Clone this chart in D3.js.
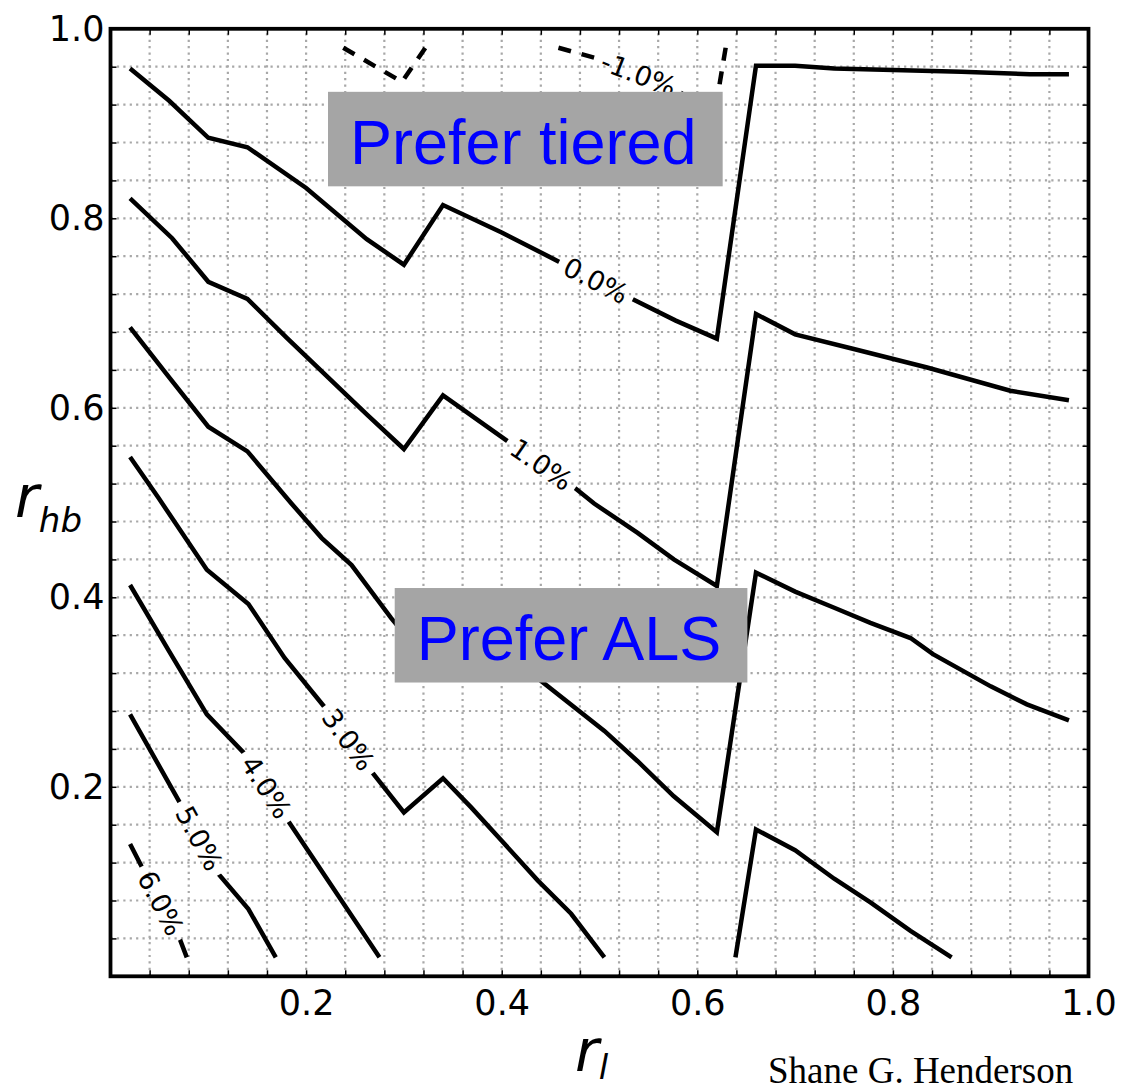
<!DOCTYPE html>
<html><head><meta charset="utf-8">
<script src="https://cdn.jsdelivr.net/npm/d3@7"></script>
<style>body{margin:0;background:#fff}</style>
</head><body><svg id="chart" width="1123" height="1091"></svg>
<script>
// ---------------- data ----------------
const xTickLabels = [0.2, 0.4, 0.6, 0.8, 1.0];
const yTickLabels = [0.2, 0.4, 0.6, 0.8, 1.0];
const gridTicks = [0.04,0.08,0.12,0.16,0.2,0.24,0.28,0.32,0.36,0.4,0.44,0.48,0.52,0.56,0.6,0.64,0.68,0.72,0.76,0.8,0.84,0.88,0.92,0.96];

// contour pieces: [r_l, r_hb]
const contourNeg1 = [
  [[0.238,0.98],[0.298,0.944],[0.322,0.98]],
  [[0.458,0.98],[0.50,0.968],[0.54,0.952],[0.58,0.935],[0.60,0.92],[0.617,0.90],[0.623,0.943],[0.629,0.98]]
];
const contour0 = [
  [[0.02,0.958],[0.06,0.924],[0.10,0.885],[0.14,0.875],[0.20,0.832],[0.262,0.778],[0.30,0.751],[0.34,0.814],[0.40,0.785],[0.459,0.754],[0.533,0.715],[0.578,0.692],[0.62,0.673],[0.66,0.961],[0.70,0.961],[0.74,0.958],[0.80,0.9565],[0.87,0.9547],[0.94,0.952],[0.98,0.952]]
];
const contour1 = [
  [[0.02,0.821],[0.063,0.779],[0.10,0.733],[0.14,0.715],[0.18,0.674],[0.262,0.593],[0.30,0.5565],[0.34,0.613],[0.407,0.564],[0.473,0.517],[0.4945,0.499],[0.539,0.468],[0.576,0.44],[0.62,0.412],[0.66,0.699],[0.70,0.6775],[0.76,0.662],[0.835,0.6425],[0.92,0.618],[0.98,0.608]]
];
const contour2 = [
  [[0.02,0.685],[0.06,0.632],[0.10,0.58],[0.14,0.554],[0.185,0.499],[0.216,0.4625],[0.2465,0.434],[0.287,0.378],[0.30,0.362],[0.34,0.395],[0.40,0.35],[0.44,0.312],[0.505,0.259],[0.539,0.227],[0.576,0.19],[0.62,0.152],[0.66,0.426],[0.70,0.406],[0.74,0.389],[0.777,0.373],[0.818,0.357],[0.841,0.34],[0.90,0.306],[0.937,0.287],[0.98,0.27]]
];
const contour3 = [
  [[0.02,0.548],[0.049,0.505],[0.0985,0.429],[0.141,0.393],[0.178,0.336],[0.219,0.284],[0.267,0.216],[0.30,0.173],[0.34,0.209],[0.369,0.178],[0.40,0.143],[0.437,0.101],[0.471,0.066],[0.505,0.02]],
  [[0.639,0.02],[0.66,0.155],[0.70,0.133],[0.74,0.103],[0.777,0.078],[0.818,0.048],[0.86,0.02]]
];
const contour4 = [
  [[0.02,0.413],[0.06,0.343],[0.0985,0.2765],[0.1376,0.2344],[0.181,0.165],[0.275,0.02]]
];
const contour5 = [
  [[0.02,0.2765],[0.0713,0.1825],[0.1104,0.108],[0.141,0.071],[0.169,0.02]]
];
const contour6 = [
  [[0.02,0.1396],[0.0322,0.115],[0.0713,0.038],[0.078,0.02]]
];
const contourLevels = [-1, 0, 1, 2, 3, 4, 5, 6];
const contourPieces = [contourNeg1, contour0, contour1, contour2, contour3, contour4, contour5, contour6];

// inline label positions (r_l of label centre) per level
const labelLevels = [-1, 0, 1, 2, 3, 4, 5, 6];
const labelX = [0.54, 0.4964, 0.4405, 0.37, 0.2432, 0.1593, 0.0907, 0.0514];

const annotations = ["Prefer tiered", "Prefer ALS"];
const annotationX = [0.2449, 0.3131];
const annotationY = [0.8575, 0.3338];

// ---------------- chart ----------------
const svg = d3.select("#chart");
const x = d3.scaleLinear().domain([0, 1]).range([110.5, 1088.5]);
const y = d3.scaleLinear().domain([0, 1]).range([976.3, 28.8]);

// grid
const grid = svg.append("g").attr("stroke", "#a8a8a8").attr("stroke-width", 2.2).attr("stroke-dasharray", "2.2,4.2");
grid.selectAll("line.v").data(gridTicks).join("line").attr("class", "v")
  .attr("x1", d => x(d)).attr("x2", d => x(d)).attr("y1", y(0)).attr("y2", y(1));
grid.selectAll("line.h").data(gridTicks).join("line").attr("class", "h")
  .attr("y1", d => y(d)).attr("y2", d => y(d)).attr("x1", x(0)).attr("x2", x(1));

// contour labels (measure first)
const lineGen = d3.line().x(d => x(d[0])).y(d => y(d[1]));
function locate(level, lx) {
  const pieces = contourPieces[contourLevels.indexOf(level)];
  for (const p of pieces) {
    for (let i = 0; i < p.length - 1; i++) {
      const a = p[i], b = p[i + 1];
      if ((lx - a[0]) * (lx - b[0]) <= 0 && a[0] !== b[0]) {
        const t = (lx - a[0]) / (b[0] - a[0]);
        const ly = a[1] + t * (b[1] - a[1]);
        const ang = Math.atan2(y(b[1]) - y(a[1]), x(b[0]) - x(a[0])) * 180 / Math.PI;
        return {px: x(lx), py: y(ly), ang};
      }
    }
  }
  return null;
}
const labels = labelLevels.map((lv, i) => Object.assign({level: lv, text: lv.toFixed(1) + "%"}, locate(lv, labelX[i])));

const defs = svg.append("defs");
const mask = defs.append("mask").attr("id", "gaps").attr("maskUnits", "userSpaceOnUse")
  .attr("x", 0).attr("y", 0).attr("width", 1123).attr("height", 1091);
mask.append("rect").attr("x", 0).attr("y", 0).attr("width", 1123).attr("height", 1091).attr("fill", "white");

const contourG = svg.append("g").attr("mask", "url(#gaps)");
contourLevels.forEach((lv, i) => {
  contourG.selectAll(null).data(contourPieces[i]).join("path")
    .attr("d", lineGen).attr("fill", "none").attr("stroke", "#000")
    .attr("stroke-width", 4.5).attr("stroke-linejoin", "miter").attr("stroke-linecap", "butt")
    .attr("stroke-dasharray", lv < 0 ? "13,11" : null);
});

const labelG = svg.append("g").attr("font-family", "DejaVu Sans").attr("font-size", 27).attr("fill", "#000");
labelG.selectAll("text").data(labels).join("text")
  .attr("transform", d => `translate(${d.px},${d.py}) rotate(${d.ang})`)
  .attr("text-anchor", "middle").attr("dominant-baseline", "central")
  .text(d => d.text)
  .each(function(d) {
    const w = this.getComputedTextLength() + 14;
    mask.append("rect").attr("x", -w / 2).attr("y", -12).attr("width", w).attr("height", 24)
      .attr("transform", `translate(${d.px},${d.py}) rotate(${d.ang})`).attr("fill", "black");
  });

// annotation boxes
annotations.forEach((t, i) => {
  const g = svg.append("g");
  const rect = g.append("rect").attr("fill", "#a5a5a5");
  const txt = g.append("text").attr("x", x(annotationX[i])).attr("y", y(annotationY[i]))
    .attr("font-family", "Liberation Sans, Arial, sans-serif").attr("font-size", 63)
    .attr("fill", "#0000ff").text(t);
  const bb = txt.node().getBBox();
  rect.attr("x", bb.x - 22).attr("y", bb.y - 15).attr("width", bb.width + 48).attr("height", bb.height + 24.5);
});

// frame
svg.append("rect").attr("x", x(0)).attr("y", y(1)).attr("width", x(1) - x(0)).attr("height", y(0) - y(1))
  .attr("fill", "none").attr("stroke", "#000").attr("stroke-width", 3.8);

// minor ticks on all sides (inward)
function styleTicks(g) {
  g.select(".domain").remove();
  g.selectAll(".tick line").attr("stroke", "#000").attr("stroke-width", 1.5);
}
svg.append("g").attr("transform", `translate(0,${y(0)})`).call(d3.axisBottom(x).tickValues(gridTicks).tickSize(-6).tickFormat("")).call(styleTicks);
svg.append("g").attr("transform", `translate(0,${y(1)})`).call(d3.axisTop(x).tickValues(gridTicks).tickSize(-6).tickFormat("")).call(styleTicks);
svg.append("g").attr("transform", `translate(${x(0)},0)`).call(d3.axisLeft(y).tickValues(gridTicks).tickSize(-6).tickFormat("")).call(styleTicks);
svg.append("g").attr("transform", `translate(${x(1)},0)`).call(d3.axisRight(y).tickValues(gridTicks).tickSize(-6).tickFormat("")).call(styleTicks);

// tick labels
const fmt = d3.format(".1f");
svg.append("g").attr("transform", `translate(0,${y(0)})`)
  .call(d3.axisBottom(x).tickValues(xTickLabels).tickSize(0).tickPadding(14).tickFormat(fmt))
  .call(g => g.select(".domain").remove())
  .attr("font-family", "DejaVu Sans").attr("font-size", 35)
  .selectAll("text").attr("fill", "#000");
svg.append("g").attr("transform", `translate(${x(0)},0)`)
  .call(d3.axisLeft(y).tickValues(yTickLabels).tickSize(0).tickPadding(6).tickFormat(fmt))
  .call(g => g.select(".domain").remove())
  .attr("font-family", "DejaVu Sans").attr("font-size", 35)
  .selectAll("text").attr("fill", "#000");

// axis titles
const yl = svg.append("text").attr("x", 15).attr("y", 517).attr("font-family", "DejaVu Sans").attr("font-style", "italic").attr("fill", "#000");
yl.append("tspan").attr("font-size", 58).text("r");
yl.append("tspan").attr("font-size", 34).attr("dy", 15).text("hb");
const xl = svg.append("text").attr("x", 575).attr("y", 1071).attr("font-family", "DejaVu Sans").attr("font-style", "italic").attr("fill", "#000");
xl.append("tspan").attr("font-size", 58).text("r");
xl.append("tspan").attr("font-size", 34).attr("dy", 8).text("l");

svg.append("text").attr("x", 768).attr("y", 1083).attr("font-family", "Liberation Serif, Times New Roman, serif")
  .attr("font-size", 37).attr("fill", "#000").text("Shane G. Henderson");
</script>
</body></html>
